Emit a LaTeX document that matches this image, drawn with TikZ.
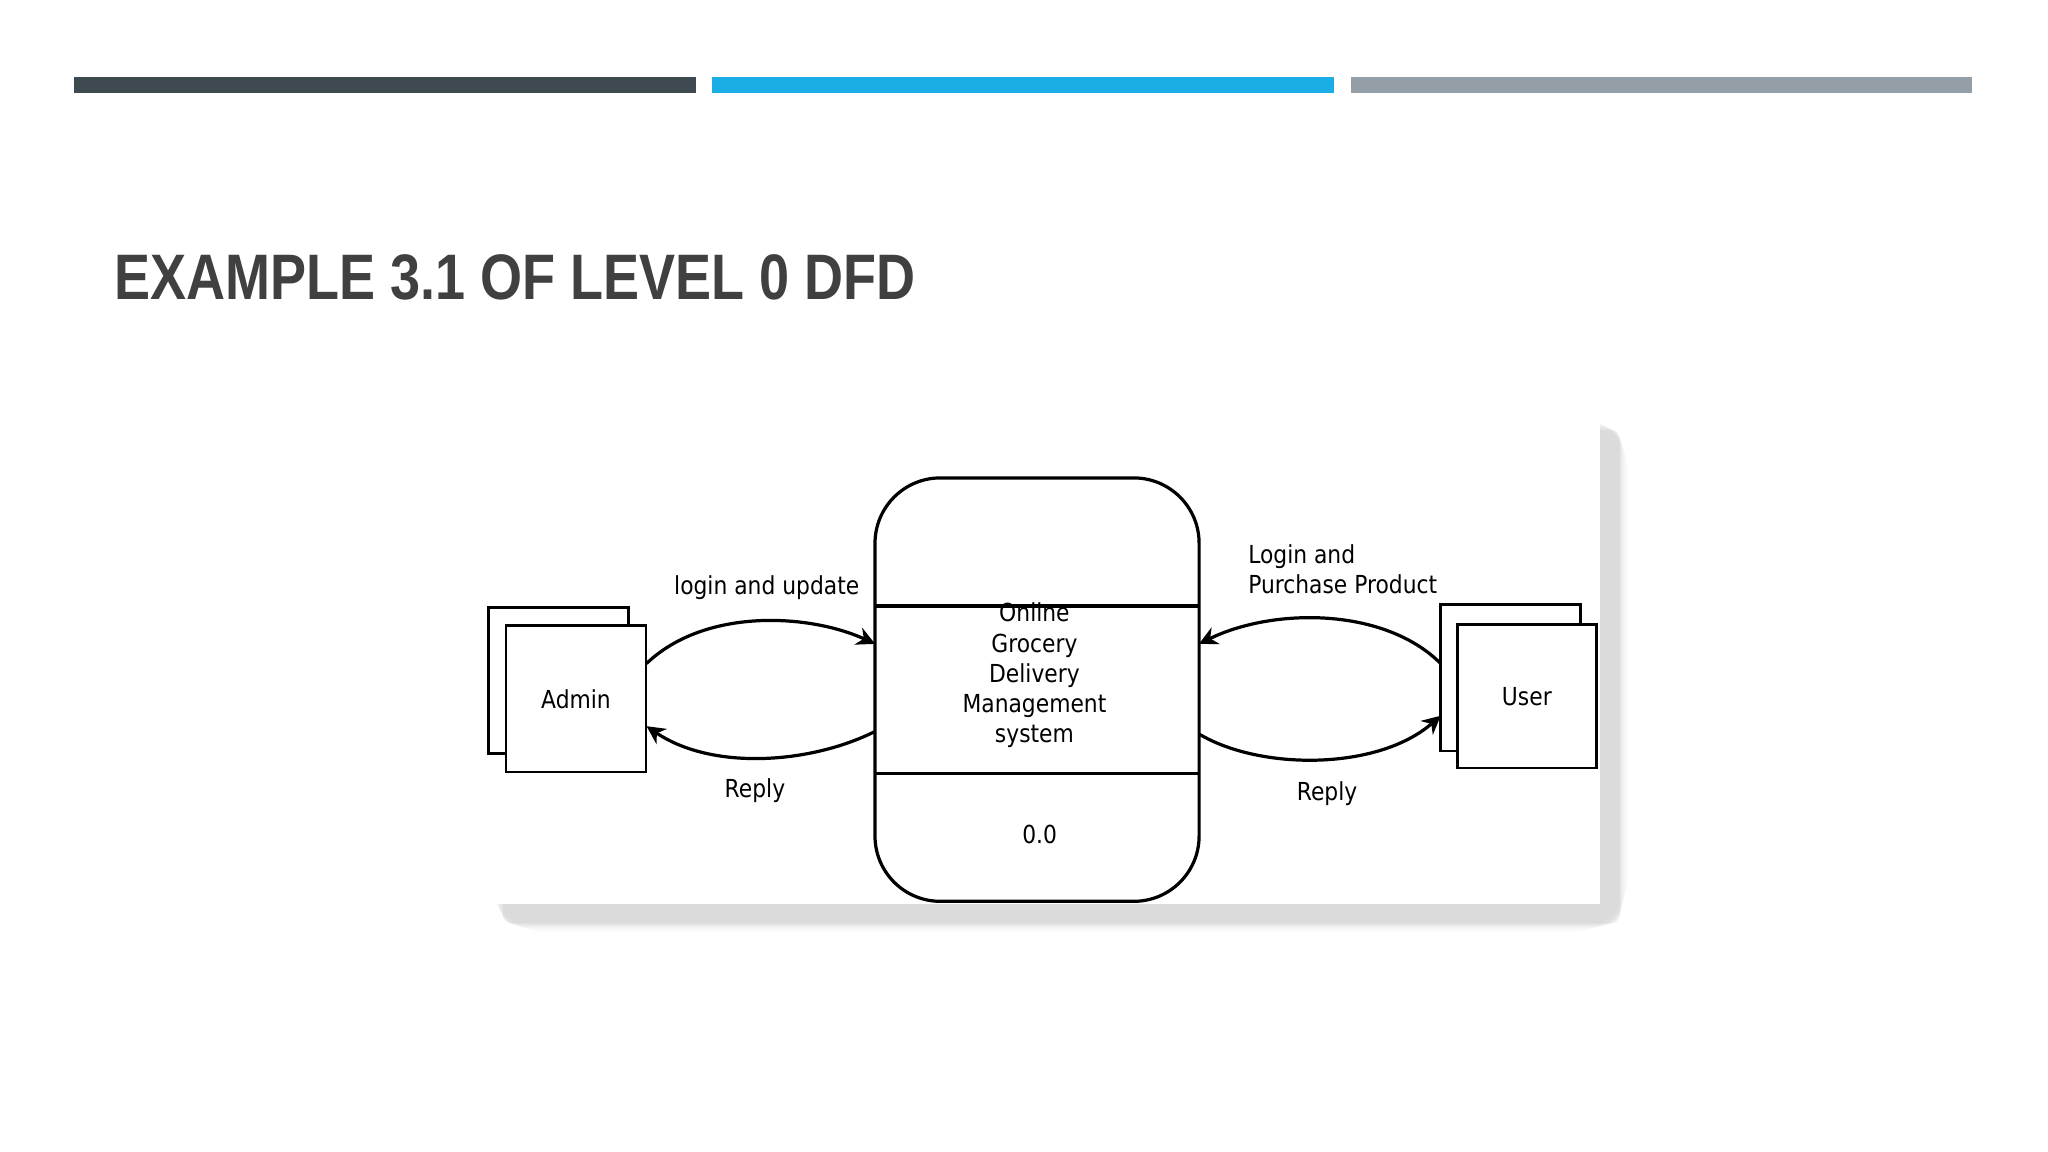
\documentclass[tikz,border=0pt]{standalone}
\usepackage{fontspec}
\setmainfont{DejaVu Sans}[FakeStretch=0.88]
\newfontfamily\titlefont{Liberation Sans}[FakeStretch=0.84]
\usetikzlibrary{arrows.meta}
\definecolor{bardark}{HTML}{3F4A50}
\definecolor{barblue}{HTML}{1BAEE5}
\definecolor{bargrey}{HTML}{939EA6}
\definecolor{titlecol}{HTML}{404040}
\tikzset{
  bar/.style={line width=3.4pt},
  ent/.style={draw, line width=0.6pt, fill=white, minimum width=1.07cm, minimum height=1.12cm, inner sep=0pt},
  flow/.style={line width=0.7pt, -{Stealth[length=4pt,width=4pt]}},
  lbl/.style={font=\fontsize{5.4}{6.55}\selectfont, inner sep=0pt},
}
\begin{document}
\begin{tikzpicture}[x=0.01cm,y=-0.01cm]
\useasboundingbox (0,0) rectangle (1568,882);
\fill[white] (0,0) rectangle (1568,882);
\draw[bar,bardark] (57,65) -- (533,65);
\draw[bar,barblue] (545,65) -- (1021,65);
\draw[bar,bargrey] (1034,65) -- (1510,65);
\node[anchor=base west, inner sep=0pt, text=titlecol, font=\titlefont\bfseries\fontsize{14}{16}\selectfont] (title) at (87,229) {EXAMPLE 3.1 OF LEVEL 0 DFD};
% shadow
\foreach \i/\o in {14/4,12/8,10/12,8/18,6/25,4/35,2/50}{
  \fill[black!\o, opacity=0.10, rounded corners=\i pt] (373+14-\i,317+14-\i) rectangle (1225+14+\i*0.6,692+14+\i*0.6);
}
\node[fill=white, minimum width=8.52cm, minimum height=3.75cm, inner sep=0pt] (panel) at (799,504.5) {};
% process
\node[draw, line width=0.7pt, rounded corners=0.5cm, minimum width=2.48cm, minimum height=3.24cm, inner sep=0pt] (proc) at (794,528) {};
\coordinate (l1w) at (670,464); \coordinate (l1e) at (918,464);
\coordinate (l2w) at (670,592); \coordinate (l2e) at (918,592);
\draw[line width=0.7pt] (l1w) -- (l1e);
\draw[line width=0.7pt] (l2w) -- (l2e);
\node[lbl, align=center, font=\fontsize{5.4}{6.55}\selectfont] (ptext) at (792,517) {Online\\Grocery\\Delivery\\Management\\system};
\node[lbl] (pid) at (796,639) {0.0};
% entities
\node[ent] (adminb) at (427.5,521) {};
\node[ent, font=\fontsize{5.4}{6.55}\selectfont] (admin) at (441,535) {Admin};
\node[ent] (userb) at (1156.5,519) {};
\node[ent, minimum width=1.06cm, minimum height=1.10cm, font=\fontsize{5.4}{6.55}\selectfont] (user) at (1169,533) {User};
% flows
\coordinate (a1) at (495,508); \coordinate (p1) at (670,493);
\coordinate (p2) at (670,560); \coordinate (a2) at (495,556);
\coordinate (u1) at (1103,508); \coordinate (p3) at (918,493);
\coordinate (p4) at (918,562); \coordinate (u2) at (1103,548);
\draw[flow] (a1) .. controls (540,465) and (620,470) .. (p1);
\draw[flow] (p2) .. controls (620,585) and (545,590) .. (a2);
\draw[flow] (u1) .. controls (1060,465) and (975,465) .. (p3);
\draw[flow] (p4) .. controls (965,590) and (1055,590) .. (u2);
\node[lbl] (l1) at (587,450) {login and update};
\node[lbl] (l2) at (578,605) {Reply};
\node[lbl, anchor=west, align=left] (l3) at (955,436) {Login and\\Purchase Product};
\node[lbl] (l4) at (1016,608) {Reply};
\end{tikzpicture}
\end{document}
